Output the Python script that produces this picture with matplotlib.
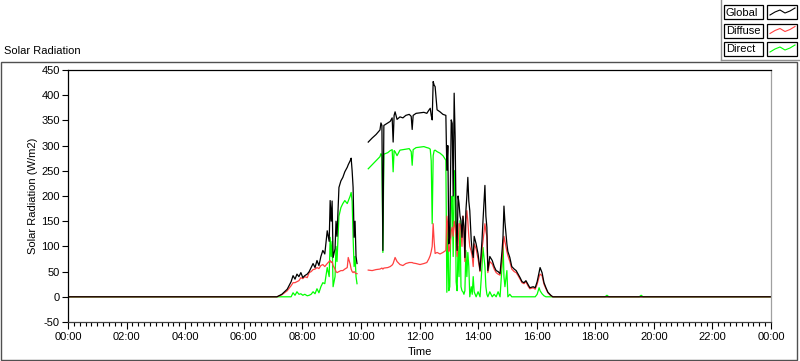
import numpy as np
import matplotlib.pyplot as plt
from matplotlib.patches import Rectangle
from matplotlib.lines import Line2D
from matplotlib.ticker import MultipleLocator, FuncFormatter

plt.rcParams['font.family'] = ['Liberation Sans', 'DejaVu Sans']
plt.rcParams['font.size'] = 8
plt.rcParams['axes.unicode_minus'] = False

nan = np.nan

# time of day in minutes
minutes = [0, 428, 438, 449, 457, 461, 465, 469, 473, 477, 481, 485, 490, 494, 498,
           502, 506, 510, 514, 518, 522, 526, 531, 535, 537, 539, 541, 543, 547, 549,
           551, 555, 559, 563, 567, 572, 574, 578, 580, 582, 584, 586, 588, 590, 592,
           600, 615, 623, 631, 639, 641, 643, 645, 647, 655, 660, 664, 666, 668, 670,
           674, 680, 686, 692, 699, 703, 705, 707, 713, 721, 729, 735, 739, 742, 744,
           746, 748, 750, 752, 756, 762, 768, 774, 776, 778, 780, 782, 785, 787, 789,
           791, 793, 795, 797, 799, 801, 803, 805, 807, 809, 811, 813, 815, 817, 819,
           821, 823, 826, 828, 830, 832, 836, 840, 844, 848, 850, 854, 856, 858, 860,
           864, 869, 873, 877, 881, 885, 889, 891, 893, 895, 899, 901, 905, 909, 914,
           918, 922, 926, 930, 934, 938, 942, 946, 953, 957, 961, 965, 967, 971, 975,
           979, 983, 989, 993, 1100, 1104, 1108, 1170, 1174, 1178, 1440]

global_rad = [0, 0, 5, 15, 30, 42, 35, 45, 40, 48, 38, 42, 45, 50, 58,
              66, 58, 72, 62, 80, 92, 85, 131, 110, 191, 150, 190, 78, 95, 150,
              120, 217, 230, 237, 248, 257, 262, 270, 275, 250, 217, 118, 150, 80, 66,
              nan, 307, 315, 322, 331, 345, 340, 92, 340, 345, 348, 355, 307, 360, 367,
              352, 357, 355, 360, 362, 358, 332, 360, 364, 365, 366, 364, 370, 374, 360,
              351, 427, 420, 417, 371, 367, 362, 360, 251, 300, 105, 118, 351, 344, 200,
              404, 317, 151, 92, 200, 185, 160, 151, 118, 160, 140, 78, 170, 200, 237,
              190, 171, 112, 90, 78, 120, 105, 85, 52, 112, 150, 221, 160, 138, 52,
              80, 72, 60, 52, 50, 46, 90, 118, 180, 148, 105, 90, 78, 60, 55,
              52, 45, 38, 30, 28, 32, 25, 18, 20, 18, 30, 48, 58, 48, 28,
              18, 9, 3, 0, 0, 0, 0, 0, 0, 0, 0]

diffuse = [0, 0, 4, 12, 22, 28, 28, 30, 32, 38, 36, 40, 38, 48, 50,
           54, 55, 58, 56, 62, 64, 60, 66, 70, 72, 68, 70, 62, 55, 50,
           48, 50, 52, 52, 55, 58, 78, 65, 55, 50, 48, 50, 48, 46, 46,
           nan, 53, 52, 54, 55, 56, 57, 55, 57, 58, 60, 63, 66, 72, 78,
           70, 64, 62, 66, 68, 68, 68, 67, 66, 64, 66, 68, 75, 82, 90,
           100, 145, 110, 86, 88, 85, 88, 92, 160, 140, 90, 95, 130, 138, 120,
           150, 140, 120, 80, 100, 145, 145, 130, 100, 160, 135, 70, 150, 171, 150,
           120, 100, 90, 80, 60, 105, 95, 75, 50, 95, 110, 145, 130, 120, 48,
           70, 65, 55, 48, 45, 43, 75, 95, 120, 110, 90, 82, 70, 55, 50,
           48, 42, 35, 28, 26, 30, 22, 16, 18, 15, 25, 40, 45, 42, 25,
           16, 8, 2, 0, 0, 0, 0, 0, 0, 0, 0]

direct = [0, 0, 0, 0, 0, 8, 3, 10, 5, 6, 3, 5, 2, 3, 5,
          10, 6, 16, 8, 20, 28, 26, 58, 40, 118, 80, 110, 20, 40, 100,
          70, 160, 177, 185, 191, 185, 190, 200, 207, 190, 118, 60, 80, 40, 26,
          nan, 254, 262, 270, 278, 284, 280, 88, 283, 286, 290, 292, 248, 290, 288,
          280, 291, 292, 293, 294, 288, 261, 292, 296, 297, 298, 296, 295, 293, 270,
          145, 280, 290, 291, 288, 285, 280, 271, 9, 150, 12, 20, 185, 200, 80,
          230, 251, 30, 12, 100, 40, 151, 20, 12, 10, 5, 12, 92, 40, 88,
          60, 0, 20, 5, 40, 10, 0, 10, 0, 60, 98, 60, 20, 5, 0,
          10, 0, 5, 0, 10, 0, 60, 112, 40, 20, 52, 0, 5, 0, 0,
          0, 0, 0, 0, 0, 0, 0, 0, 0, 0, 5, 18, 12, 6, 2,
          0, 0, 0, 0, 0, 3, 0, 0, 3, 0, 0]

hours = np.array(minutes) / 60.0

W, H = 800, 361
fig = plt.figure(figsize=(W / 100, H / 100), dpi=100)
fig.patch.set_facecolor('white')


def fx(x):
    return x / W


def fy(y):
    return 1 - y / H


# outer panel frame
fig.patches.append(Rectangle((fx(0.5), fy(360)), fx(796), (360 - 62) / H,
                             transform=fig.transFigure, fill=False,
                             edgecolor='#505050', lw=1.0))

ax = fig.add_axes([fx(68), fy(322), 703 / W, 252 / H])
ax.plot(hours, direct, color='#00ff00', lw=0.9)
ax.plot(hours, diffuse, color='#ff4040', lw=0.9)
ax.plot(hours, global_rad, color='black', lw=0.9)

ax.set_xlim(0, 24)
ax.set_ylim(-50, 450)
ax.yaxis.set_major_locator(MultipleLocator(50))
ax.xaxis.set_major_locator(MultipleLocator(2))
ax.xaxis.set_minor_locator(MultipleLocator(0.2))
ax.xaxis.set_major_formatter(FuncFormatter(lambda v, p: '%02d:00' % (int(round(v)) % 24)))
ax.tick_params(axis='y', length=4, width=0.8, pad=2, labelsize=8)
ax.tick_params(axis='x', which='major', length=5, width=0.8, pad=2, labelsize=8)
ax.tick_params(axis='x', which='minor', length=3, width=0.8)
ax.spines['top'].set_color('black')
ax.spines['left'].set_color('black')
ax.spines['bottom'].set_color('#404040')
ax.spines['right'].set_color('#a0a0a0')
for s in ax.spines.values():
    s.set_linewidth(0.9)

fig.text(fx(4), fy(51), 'Solar Radiation', ha='left', va='center', fontsize=8)
fig.text(fx(33), fy(196), 'Solar Radiation (W/m2)', rotation=90,
         ha='center', va='center', fontsize=8)
fig.text(fx(419.5), fy(352), 'Time', ha='center', va='center', fontsize=8)

# legend block, top right
fig.add_artist(Line2D([fx(721), fx(721)], [fy(0), fy(60)], transform=fig.transFigure,
                      color='#909090', lw=1))
fig.add_artist(Line2D([fx(721), fx(800)], [fy(60), fy(60)], transform=fig.transFigure,
                      color='#909090', lw=1))
legend_names = ['Global', 'Diffuse', 'Direct']
legend_colors = ['black', '#ff4040', '#00ff00']
row_tops = [5, 23.5, 42]
zig_dx = [3, 8, 13, 18, 23, 28]
zig_dy = [10, 7, 5, 8, 6, 3]
for name, col, top in zip(legend_names, legend_colors, row_tops):
    fig.patches.append(Rectangle((fx(724), fy(top + 14)), 39 / W, 14 / H,
                                 transform=fig.transFigure, fill=False,
                                 edgecolor='black', lw=0.9))
    fig.patches.append(Rectangle((fx(767), fy(top + 14)), 30 / W, 14 / H,
                                 transform=fig.transFigure, fill=False,
                                 edgecolor='black', lw=0.9))
    fig.text(fx(726), fy(top + 7.5), name, ha='left', va='center', fontsize=8)
    fig.add_artist(Line2D([fx(767 + d) for d in zig_dx], [fy(top + d) for d in zig_dy],
                          transform=fig.transFigure, color=col, lw=0.8))

fig.savefig('out.png', dpi=100)
